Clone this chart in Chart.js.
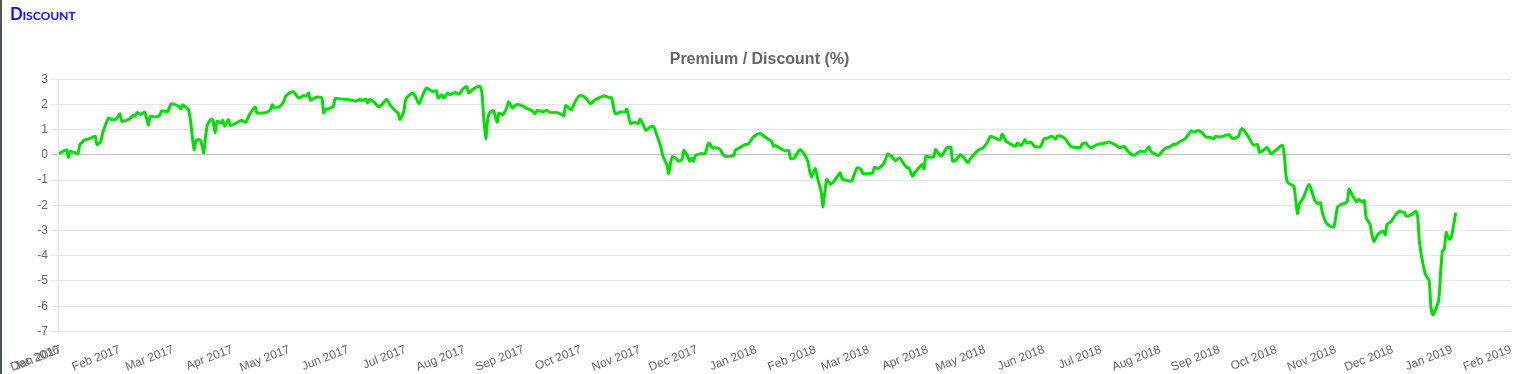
<!DOCTYPE html>
<html>
<head>
<meta charset="utf-8">
<title>Discount</title>
<script src="https://cdn.jsdelivr.net/npm/chart.js@4.4.1/dist/chart.umd.min.js"></script>
<style>
  html, body { margin: 0; padding: 0; background: #fff; }
  body { width: 1530px; height: 374px; position: relative; overflow: hidden; }
  .edge { position: absolute; left: 0; top: 0; width: 2px; height: 374px; background: #4f5459; }
  h2 {
    position: absolute; left: 10px; top: 4px; margin: 0;
    font-family: Lato, "Open Sans", sans-serif; font-weight: bold; font-size: 16.5px;
    font-variant: small-caps; color: #1010ff;
  }
  .wrap { position: absolute; left: 8px; top: 40px; width: 1512px; height: 338px; }
</style>
</head>
<body>
<div class="edge"></div>
<h2>Discount</h2>
<div class="wrap"><canvas id="myChart"></canvas></div>
<script>
// daily premium / discount readings (%)
const dates = [
  '2016-12-31','2017-01-02','2017-01-04','2017-01-05','2017-01-06','2017-01-08','2017-01-10','2017-01-11','2017-01-12','2017-01-13',
  '2017-01-16','2017-01-19','2017-01-20','2017-01-22','2017-01-23','2017-01-26','2017-01-28','2017-01-30','2017-02-01','2017-02-02',
  '2017-02-04','2017-02-06','2017-02-08','2017-02-09','2017-02-10','2017-02-12','2017-02-14','2017-02-16','2017-02-17','2017-02-20',
  '2017-02-22','2017-02-23','2017-02-26','2017-02-28','2017-03-02','2017-03-04','2017-03-05','2017-03-06','2017-03-07','2017-03-09',
  '2017-03-10','2017-03-11','2017-03-12','2017-03-13','2017-03-15','2017-03-16','2017-03-17','2017-03-18','2017-03-19','2017-03-21',
  '2017-03-22','2017-03-23','2017-03-24','2017-03-26','2017-03-27','2017-03-28','2017-03-30','2017-03-31','2017-04-03','2017-04-06',
  '2017-04-08','2017-04-10','2017-04-13','2017-04-14','2017-04-17','2017-04-19','2017-04-21','2017-04-22','2017-04-23','2017-04-26',
  '2017-04-28','2017-04-29','2017-05-01','2017-05-03','2017-05-04','2017-05-06','2017-05-08','2017-05-10','2017-05-11','2017-05-12',
  '2017-05-14','2017-05-16','2017-05-18','2017-05-19','2017-05-20','2017-05-22','2017-05-24','2017-05-25','2017-05-28','2017-06-01',
  '2017-06-05','2017-06-07','2017-06-08','2017-06-10','2017-06-11','2017-06-12','2017-06-14','2017-06-17','2017-06-19','2017-06-21',
  '2017-06-23','2017-06-26','2017-06-27','2017-06-28','2017-06-30','2017-07-01','2017-07-03','2017-07-05','2017-07-08','2017-07-10',
  '2017-07-12','2017-07-15','2017-07-17','2017-07-18','2017-07-20','2017-07-21','2017-07-23','2017-07-24','2017-07-27','2017-07-29',
  '2017-07-31','2017-08-02','2017-08-03','2017-08-05','2017-08-07','2017-08-09','2017-08-10','2017-08-11','2017-08-12','2017-08-13',
  '2017-08-14','2017-08-16','2017-08-18','2017-08-19','2017-08-21','2017-08-23','2017-08-24','2017-08-26','2017-08-28','2017-08-31',
  '2017-09-02','2017-09-05','2017-09-07','2017-09-08','2017-09-11','2017-09-13','2017-09-15','2017-09-18','2017-09-21','2017-09-22',
  '2017-09-23','2017-09-25','2017-09-26','2017-09-28','2017-09-30','2017-10-02','2017-10-04','2017-10-06','2017-10-08','2017-10-11',
  '2017-10-13','2017-10-15','2017-10-17','2017-10-18','2017-10-19','2017-10-22','2017-10-24','2017-10-25','2017-10-27','2017-10-29',
  '2017-10-31','2017-11-01','2017-11-03','2017-11-04','2017-11-06','2017-11-08','2017-11-10','2017-11-12','2017-11-13','2017-11-15',
  '2017-11-16','2017-11-17','2017-11-18','2017-11-20','2017-11-21','2017-11-23','2017-11-24','2017-11-26','2017-11-27','2017-11-28',
  '2017-11-29','2017-11-30','2017-12-03','2017-12-05','2017-12-07','2017-12-09','2017-12-11','2017-12-13','2017-12-15','2017-12-17',
  '2017-12-20','2017-12-21','2017-12-24','2017-12-26','2017-12-28','2017-12-30','2018-01-01','2018-01-03','2018-01-05','2018-01-07',
  '2018-01-09','2018-01-10','2018-01-11','2018-01-14','2018-01-16','2018-01-18','2018-01-19','2018-01-21','2018-01-22','2018-01-24',
  '2018-01-26','2018-01-28','2018-01-29','2018-01-30','2018-01-31','2018-02-01','2018-02-02','2018-02-04','2018-02-05','2018-02-06',
  '2018-02-07','2018-02-09','2018-02-11','2018-02-14','2018-02-15','2018-02-18','2018-02-20','2018-02-21','2018-02-23','2018-02-25',
  '2018-02-26','2018-02-28','2018-03-03','2018-03-04','2018-03-06','2018-03-09','2018-03-11','2018-03-13','2018-03-15','2018-03-17',
  '2018-03-19','2018-03-21','2018-03-22','2018-03-24','2018-03-25','2018-03-27','2018-03-29','2018-03-30','2018-03-31','2018-04-02',
  '2018-04-04','2018-04-05','2018-04-06','2018-04-08','2018-04-09','2018-04-11','2018-04-13','2018-04-14','2018-04-16','2018-04-18',
  '2018-04-20','2018-04-22','2018-04-23','2018-04-26','2018-04-28','2018-04-30','2018-05-02','2018-05-04','2018-05-07','2018-05-09',
  '2018-05-10','2018-05-12','2018-05-14','2018-05-17','2018-05-18','2018-05-20','2018-05-22','2018-05-23','2018-05-25','2018-05-27',
  '2018-05-30','2018-06-01','2018-06-03','2018-06-05','2018-06-07','2018-06-08','2018-06-10','2018-06-12','2018-06-15','2018-06-17',
  '2018-06-20','2018-06-21','2018-06-23','2018-06-24','2018-06-26','2018-06-28','2018-06-30','2018-07-03','2018-07-05','2018-07-08',
  '2018-07-11','2018-07-13','2018-07-15','2018-07-18','2018-07-20','2018-07-22','2018-07-24','2018-07-26','2018-07-27','2018-07-29',
  '2018-07-31','2018-08-02','2018-08-04','2018-08-06','2018-08-08','2018-08-09','2018-08-11','2018-08-14','2018-08-17','2018-08-19',
  '2018-08-21','2018-08-23','2018-08-25','2018-08-27','2018-08-29','2018-08-30','2018-09-01','2018-09-04','2018-09-06','2018-09-08',
  '2018-09-11','2018-09-12','2018-09-13','2018-09-16','2018-09-17','2018-09-19','2018-09-21','2018-09-22','2018-09-24','2018-09-26',
  '2018-09-28','2018-10-01','2018-10-04','2018-10-05','2018-10-06','2018-10-07','2018-10-10','2018-10-11','2018-10-12','2018-10-13',
  '2018-10-15','2018-10-18','2018-10-20','2018-10-21','2018-10-23','2018-10-24','2018-10-25','2018-10-27','2018-10-29','2018-10-31',
  '2018-11-01','2018-11-02','2018-11-04','2018-11-07','2018-11-08','2018-11-10','2018-11-12','2018-11-13','2018-11-15','2018-11-16',
  '2018-11-17','2018-11-19','2018-11-20','2018-11-21','2018-11-23','2018-11-25','2018-11-26','2018-11-27','2018-11-28','2018-11-30',
  '2018-12-02','2018-12-04','2018-12-07','2018-12-08','2018-12-11','2018-12-13','2018-12-14','2018-12-15','2018-12-18','2018-12-20',
  '2018-12-21','2018-12-22','2018-12-23','2018-12-25','2018-12-26','2018-12-27','2018-12-28','2018-12-29','2018-12-30','2018-12-31',
  '2019-01-01','2019-01-03'
];

const premium = [
  0.05, 0.13, 0.21, -0.10, 0.14, 0.10, 0.05, 0.41, 0.47, 0.58,
  0.64, 0.74, 0.40, 0.54, 0.87, 1.46, 1.40, 1.42, 1.63, 1.33,
  1.36, 1.42, 1.57, 1.53, 1.68, 1.60, 1.70, 1.19, 1.53, 1.50,
  1.58, 1.75, 1.72, 2.03, 1.99, 1.92, 1.82, 1.99, 1.92, 1.79,
  1.40, 0.74, 0.21, 0.57, 0.60, 0.41, 0.08, 0.74, 1.20, 1.42,
  1.33, 0.87, 1.33, 1.26, 1.37, 1.13, 1.40, 1.16, 1.26, 1.37,
  1.29, 1.59, 1.90, 1.66, 1.66, 1.68, 1.79, 1.99, 1.87, 1.92,
  2.12, 2.32, 2.45, 2.50, 2.42, 2.25, 2.34, 2.34, 2.45, 2.16,
  2.25, 2.29, 2.25, 1.66, 1.79, 1.84, 1.92, 2.24, 2.21, 2.19,
  2.13, 2.21, 2.16, 2.21, 2.06, 2.19, 2.12, 1.90, 2.03, 2.21,
  1.95, 1.72, 1.66, 1.40, 1.72, 2.19, 2.38, 2.45, 2.03, 2.38,
  2.65, 2.51, 2.54, 2.25, 2.38, 2.25, 2.45, 2.38, 2.47, 2.41,
  2.61, 2.71, 2.45, 2.58, 2.69, 2.71, 2.45, 1.40, 0.63, 1.40,
  1.66, 1.76, 1.29, 1.66, 1.59, 1.86, 2.11, 1.86, 1.99, 1.95,
  1.86, 1.76, 1.63, 1.76, 1.72, 1.76, 1.68, 1.68, 1.60, 1.55,
  1.95, 1.84, 1.79, 2.12, 2.34, 2.34, 2.21, 2.02, 2.16, 2.28,
  2.34, 2.29, 2.25, 1.92, 1.63, 1.71, 1.70, 1.82, 1.24, 1.29,
  1.24, 1.42, 1.13, 0.97, 1.09, 1.13, 0.74, 0.28, -0.06, -0.38,
  -0.74, -0.32, -0.06, -0.16, -0.25, -0.19, 0.18, -0.06, -0.25, -0.12,
  -0.25, -0.03, 0.05, 0.04, 0.47, 0.28, 0.28, 0.21, -0.03, -0.06,
  -0.03, 0.18, 0.32, 0.41, 0.45, 0.67, 0.80, 0.85, 0.74, 0.63,
  0.54, 0.34, 0.37, 0.24, 0.17, 0.17, -0.15, -0.12, 0.01, 0.21,
  0.04, -0.25, -0.65, -0.89, -0.67, -0.54, -0.89, -1.46, -2.07, -1.44,
  -0.98, -1.17, -1.02, -0.71, -0.95, -1.02, -1.04, -0.85, -0.51, -0.58,
  -0.75, -0.75, -0.71, -0.49, -0.55, -0.32, 0.04, -0.06, -0.23, -0.12,
  -0.32, -0.51, -0.51, -0.85, -0.71, -0.54, -0.38, -0.54, -0.06, -0.09,
  -0.09, 0.21, 0.12, -0.06, 0.04, 0.28, 0.30, -0.25, -0.19, 0.01,
  -0.12, -0.32, -0.19, 0.08, 0.21, 0.28, 0.47, 0.74, 0.64, 0.60,
  0.83, 0.54, 0.45, 0.34, 0.47, 0.37, 0.60, 0.47, 0.51, 0.34,
  0.32, 0.64, 0.67, 0.74, 0.63, 0.74, 0.74, 0.64, 0.34, 0.30,
  0.30, 0.43, 0.47, 0.37, 0.28, 0.38, 0.43, 0.47, 0.51, 0.41,
  0.28, 0.34, 0.14, -0.02, 0.08, 0.14, 0.14, 0.32, 0.14, 0.04,
  -0.03, 0.14, 0.28, 0.32, 0.43, 0.41, 0.51, 0.64, 0.93, 0.91,
  0.97, 0.87, 0.70, 0.70, 0.64, 0.74, 0.70, 0.77, 0.80, 0.64,
  0.74, 0.96, 1.04, 0.74, 0.60, 0.38, 0.41, 0.10, 0.17, 0.30,
  0.04, 0.21, 0.38, 0.01, -0.85, -1.11, -1.24, -1.77, -2.33, -1.94,
  -1.70, -1.17, -1.57, -1.81, -1.94, -1.90, -2.29, -2.69, -2.82, -2.86,
  -2.49, -2.07, -1.96, -1.86, -1.37, -1.64, -1.86, -1.77, -1.86, -1.81,
  -2.49, -2.75, -3.15, -3.44, -3.17, -3.04, -3.02, -3.17, -2.75, -2.65,
  -2.43, -2.25, -2.28, -2.43, -2.36, -2.23, -2.43, -3.48, -4.73, -4.97,
  -6.05, -6.34, -6.21, -5.79, -4.73, -3.81, -3.74, -3.08, -3.26, -3.35,
  -3.15, -2.29
];

// x axis: first tick is the start of the data, then every month start
const tickDates = [
  '2016-12-31','2017-01-01','2017-02-01','2017-03-01','2017-04-01','2017-05-01','2017-06-01','2017-07-01','2017-08-01',
  '2017-09-01','2017-10-01','2017-11-01','2017-12-01','2018-01-01','2018-02-01','2018-03-01','2018-04-01','2018-05-01',
  '2018-06-01','2018-07-01','2018-08-01','2018-09-01','2018-10-01','2018-11-01','2018-12-01','2019-01-01','2019-02-01'
];
const monthNames = ['Jan','Feb','Mar','Apr','May','Jun','Jul','Aug','Sep','Oct','Nov','Dec'];
const yTicks = [3, 2, 1, 0, -1, -2, -3, -4, -5, -6, -7];

function toTime(d) {
    return Date.parse(d + 'T00:00:00Z');
}

function monthLabel(v) {
    const d = new Date(v);
    return monthNames[d.getUTCMonth()] + ' ' + d.getUTCFullYear();
}

const points = dates.map(function (d, i) {
    return { x: toTime(d), y: premium[i] };
});
const tickValues = tickDates.map(toTime);

const ctx = document.getElementById('myChart').getContext('2d');
const myChart = new Chart(ctx, {
    type: 'line',
    data: {
        datasets: [{
            label: 'Premium / Discount (%)',
            data: points,
            borderColor: '#00e000',
            backgroundColor: '#00e000',
            borderWidth: 3,
            pointRadius: 0,
            fill: false,
            tension: 0.2
        }]
    },
    options: {
        responsive: true,
        maintainAspectRatio: false,
        animation: false,
        layout: { padding: { right: 9 } },
        plugins: {
            legend: { display: false },
            tooltip: { enabled: false },
            title: {
                display: true,
                text: 'Premium / Discount (%)',
                color: '#666',
                font: { size: 16, weight: 'bold' },
                padding: { top: 10, bottom: 10 }
            }
        },
        scales: {
            x: {
                type: 'linear',
                min: tickValues[0],
                max: tickValues[tickValues.length - 1],
                grid: { display: false },
                border: { display: false },
                afterBuildTicks: function (scale) {
                    scale.ticks = tickValues.map(function (v) { return { value: v }; });
                },
                ticks: {
                    autoSkip: false,
                    color: '#666',
                    font: { size: 12 },
                    callback: function (v) { return monthLabel(v); }
                }
            },
            y: {
                min: yTicks[yTicks.length - 1],
                max: yTicks[0],
                afterBuildTicks: function (scale) {
                    scale.ticks = yTicks.map(function (v) { return { value: v }; });
                },
                grid: {
                    color: function (c) {
                        return c.tick && c.tick.value === 0 ? 'rgba(0,0,0,0.25)' : 'rgba(0,0,0,0.1)';
                    }
                },
                border: { color: 'rgba(0,0,0,0.1)' },
                ticks: { color: '#666', font: { size: 12 } }
            }
        }
    }
});
</script>
</body>
</html>
